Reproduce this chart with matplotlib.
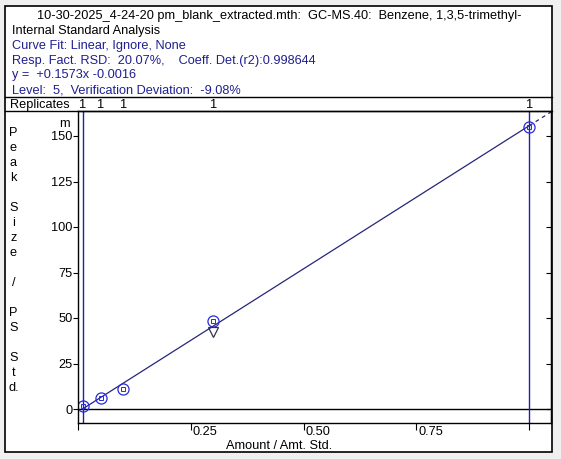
import matplotlib
matplotlib.use("Agg")
import matplotlib.pyplot as plt
import matplotlib.transforms as mtransforms
from matplotlib.lines import Line2D
from matplotlib.patches import Rectangle

plt.rcParams['font.family'] = ['Liberation Sans', 'DejaVu Sans']
FS = 9.2

# calibration levels: amount / amt. std. vs peak size / PS std. (m)
amounts = [0.01, 0.05, 0.1, 0.3, 1.0]
responses = [1.5, 5.9, 10.8, 48.4, 155.1]
replicates = ['1', '1', '1', '1', '1']

# verification point (triangle)
check_amount = [0.3]
check_response = [42.3]

# fitted line, solid inside the range, dashed past the last level
fit_x = [0.01, 1.0]
fit_y = [0.0, 155.7]
extrap_x = [1.0, 1.05]
extrap_y = [155.7, 163.5]
range_x = [0.01, 1.0]

yticks = [0, 25, 50, 75, 100, 125, 150]
xticks = [0, 0.25, 0.5, 0.75, 1.0]
xticklabels = ['', '0.25', '0.50', '0.75', '']

title = "10-30-2025_4-24-20 pm_blank_extracted.mth:  GC-MS.40:  Benzene, 1,3,5-trimethyl-"
info_lines = ["Internal Standard Analysis",
              "Curve Fit: Linear, Ignore, None",
              "Resp. Fact. RSD:  20.07%,    Coeff. Det.(r2):0.998644",
              "y =  +0.1573x -0.0016",
              "Level:  5,  Verification Deviation:  -9.08%"]
info_colors = ['black', '#1f1f8f', '#1f1f8f', '#1f1f8f', '#1f1f8f']
# vertical y label, one letter per row ('' = empty row)
ylabel_rows = list("Peak") + [''] + list("Size") + ['', '/', ''] + \
    list("PS") + [''] + ['S', 't', 'd.']

W, H = 561, 459
fig = plt.figure(figsize=(W / 100, H / 100), dpi=100, facecolor='#f0f0f0')


def fx(px):
    return px / W


def fy(py):
    return 1 - py / H


# white panel with black frame
fig.patches.append(Rectangle((fx(5), fy(452)), fx(552) - fx(5), fy(6) - fy(452),
                             transform=fig.transFigure, facecolor='white',
                             edgecolor='black', lw=1.2, zorder=-1))

# header text
fig.text(fx(279), fy(16), title, ha='center', va='center', fontsize=FS)
for i, (line, c) in enumerate(zip(info_lines, info_colors)):
    fig.text(fx(12), fy(31 + 14.8 * i), line, ha='left', va='center',
             fontsize=FS, color=c)

for yy in [97, 111]:
    fig.add_artist(Line2D([fx(5), fx(552)], [fy(yy), fy(yy)], color='black', lw=1))

# plot area
ax = fig.add_axes([fx(78), fy(423), fx(551) - fx(78), fy(111) - fy(423)])
ax.set_xlim(0, (551 - 78) / 451.3)
ax.set_ylim((409 - 423) / 1.82, (409 - 111) / 1.82)
for s in ax.spines.values():
    s.set_color('black')
    s.set_linewidth(1)

ax.axhline(0, color='black', lw=1)
for xv in range_x:
    ax.axvline(xv, color='#2020a8', lw=1.0)

ax.plot(fit_x, fit_y, color='#26267a', lw=0.9)
ax.plot(extrap_x, extrap_y, color='#26267a', lw=0.9, dashes=(3, 3))

ax.plot(amounts, responses, 'o', ms=8, mfc='none', mec='#2a2ae0', mew=0.9)
ax.plot(amounts, responses, 's', ms=2.2, mfc='none', mec='#2a2ae0', mew=0.7)
ax.plot(check_amount, check_response, 'v', ms=7, mfc='none', mec='#33334f', mew=0.9)

ax.set_yticks(yticks)
ax.set_yticklabels([str(v) for v in yticks])
ax.tick_params(axis='y', direction='out', length=3.6, width=0.8, pad=0.5,
               labelsize=FS)
ax.set_xticks(xticks)
ax.set_xticklabels([])
ax.tick_params(axis='x', direction='out', length=4.8, width=0.8)

sec = ax.secondary_yaxis('right')
sec.set_yticks(yticks)
sec.tick_params(direction='in', length=3.6, width=0.8, labelright=False)

for xv, lab in zip(xticks, xticklabels):
    if lab:
        ax.annotate(lab, xy=(xv, 0), xycoords=('data', 'axes fraction'),
                    xytext=(1.5, -2.5), textcoords='offset points',
                    ha='left', va='top', fontsize=FS)

fig.text(fx(279), fy(446), 'Amount / Amt. Std.', ha='center', va='center',
         fontsize=FS)
fig.text(fx(64.5), fy(124), 'm', ha='center', va='center', fontsize=FS)

for i, ch in enumerate(ylabel_rows):
    if ch:
        fig.text(fx(13.5), fy(132.7 + 15 * i), ch, ha='center', va='center',
                 fontsize=FS)

# replicates row
rep_tr = mtransforms.blended_transform_factory(ax.transData, fig.transFigure)
fig.text(fx(10), fy(105), 'Replicates', ha='left', va='center', fontsize=FS)
for xv, r in zip(amounts, replicates):
    ax.text(xv, fy(105), r, transform=rep_tr, ha='center', va='center',
            fontsize=FS, clip_on=False)

fig.savefig('out.png', dpi=100, facecolor=fig.get_facecolor())
